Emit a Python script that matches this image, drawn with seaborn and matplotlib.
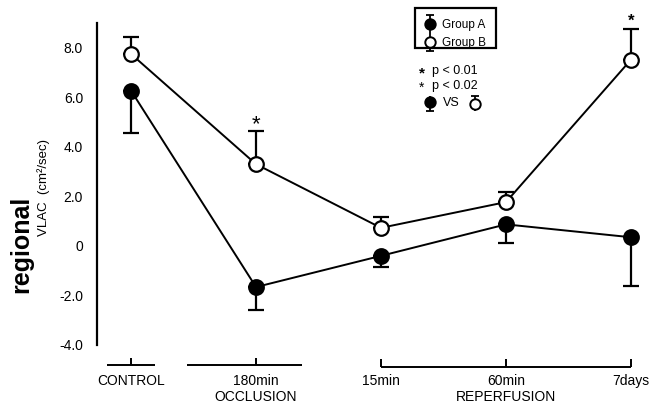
import numpy as np
import pandas as pd
import matplotlib
matplotlib.use("Agg")
import matplotlib.pyplot as plt
import seaborn as sns

# ---- data ----
categories = ["CONTROL", "180min", "15min", "60min", "7days"]
group_a = [6.27, -1.66, -0.40, 0.87, 0.35]
group_a_err_low = [1.70, 0.94, 0.45, 0.77, 1.97]
group_b = [7.75, 3.30, 0.73, 1.77, 7.52]
group_b_err_high = [0.70, 1.35, 0.42, 0.42, 1.22]
yticks = [-4, -2, 0, 2, 4, 6, 8]
ytick_labels = ["-4.0", "-2.0", "0", "2.0", "4.0", "6.0", "8.0"]

sns.set_style("white")
plt.rcParams["font.family"] = ["Liberation Sans", "DejaVu Sans"]
plt.rcParams["text.color"] = "black"
plt.rcParams["ytick.color"] = "black"
plt.rcParams["ytick.labelcolor"] = "black"

W, H = 656, 408
fig = plt.figure(figsize=(W / 100, H / 100), dpi=100)
AX_L, AX_R, AX_T, AX_B = 97, 656, 23, 345
ax = fig.add_axes([AX_L / W, (H - AX_B) / H, (AX_R - AX_L) / W, (AX_B - AX_T) / H])

xpos = np.arange(len(categories))
df = pd.DataFrame({
    "x": np.concatenate([xpos, xpos]),
    "value": group_a + group_b,
    "group": ["Group A"] * 5 + ["Group B"] * 5,
})

# error bars (one-sided)
ax.errorbar(xpos, group_a, yerr=[group_a_err_low, [0] * 5], fmt="none",
            ecolor="black", elinewidth=1.6, capsize=5.5, capthick=1.6, zorder=2)
ax.errorbar(xpos, group_b, yerr=[[0] * 5, group_b_err_high], fmt="none",
            ecolor="black", elinewidth=1.6, capsize=5.5, capthick=1.6, zorder=2)

sns.lineplot(data=df[df.group == "Group A"], x="x", y="value", ax=ax,
             color="black", lw=1.4, marker="o", markersize=10.5,
             markerfacecolor="black", markeredgecolor="black",
             markeredgewidth=1.6, zorder=3, legend=False)
sns.lineplot(data=df[df.group == "Group B"], x="x", y="value", ax=ax,
             color="black", lw=1.4, marker="o", markersize=10.5,
             markerfacecolor="white", markeredgecolor="black",
             markeredgewidth=1.6, zorder=4, legend=False)

ax.set_xlim((AX_L - 131) / 125, (AX_R - 131) / 125)
ax.set_ylim(-4, 9.0)
ax.set_yticks(yticks)
ax.set_yticklabels(ytick_labels, fontsize=10)
ax.set_xticks([])
ax.set_xlabel("")
ax.set_ylabel("")
for s in ["top", "right", "bottom"]:
    ax.spines[s].set_visible(False)
ax.spines["left"].set_linewidth(1.6)
ax.spines["left"].set_color("black")
ax.tick_params(axis="y", direction="out", length=6, width=1.3, color="black", pad=4)


def P(px, py):
    """pixel -> axes fraction"""
    return (px - AX_L) / (AX_R - AX_L), (AX_B - py) / (AX_B - AX_T)


def line_px(xs, ys, lw=1.4):
    pts = [P(x, y) for x, y in zip(xs, ys)]
    ax.plot([p[0] for p in pts], [p[1] for p in pts], color="black", lw=lw,
            transform=ax.transAxes, clip_on=False, solid_capstyle="butt")


def text_px(px, py, s, **kw):
    x, y = P(px, py)
    ax.text(x, y, s, transform=ax.transAxes, clip_on=False, **kw)


# bottom brackets
line_px([107, 155], [365, 365])
line_px([131, 131], [365, 358])
line_px([187, 302], [365, 365])
line_px([256, 256], [365, 358])
line_px([381, 631], [367, 367])
line_px([381, 381], [367, 359])
line_px([506, 506], [367, 359])
line_px([631, 631], [367, 359])

for i, lab in enumerate(categories):
    text_px(131 + 125 * i, 381, lab, ha="center", va="center", fontsize=10)
text_px(256, 397, "OCCLUSION", ha="center", va="center", fontsize=10)
text_px(506, 397, "REPERFUSION", ha="center", va="center", fontsize=10)

# significance marks
text_px(256, 125, "*", ha="center", va="center", fontsize=16)
text_px(631, 21, "*", ha="center", va="center", fontsize=12, fontweight="bold")

# legend box
bx0, by0 = P(415, 48)
bx1, by1 = P(496, 8)
ax.add_patch(plt.Rectangle((bx0, by0), bx1 - bx0, by1 - by0, transform=ax.transAxes,
                           fill=False, edgecolor="black", lw=1.6, clip_on=False))
line_px([430, 430], [15, 51], lw=1.3)
line_px([426, 434], [15, 15], lw=1.3)
line_px([426, 434], [51, 51], lw=1.3)
for (cx, cy, fc) in [(430, 24, "black"), (430, 42, "white")]:
    x, y = P(cx, cy)
    ax.plot([x], [y], marker="o", ms=7.5, mfc=fc, mec="black", mew=1.4,
            transform=ax.transAxes, clip_on=False)
text_px(442, 25, "Group A", ha="left", va="center", fontsize=8.5)
text_px(442, 43, "Group B", ha="left", va="center", fontsize=8.5)

text_px(419, 73, "*", ha="left", va="center", fontsize=11, fontweight="bold")
text_px(432, 71, "p < 0.01", ha="left", va="center", fontsize=9)
text_px(419, 88, "*", ha="left", va="center", fontsize=10)
text_px(432, 86, "p < 0.02", ha="left", va="center", fontsize=9)
# VS row
line_px([430, 430], [96, 111], lw=1.3)
line_px([426, 434], [111, 111], lw=1.3)
line_px([475, 475], [96, 111], lw=1.3)
line_px([471, 479], [96, 96], lw=1.3)
for (cx, cy, fc) in [(430, 102, "black"), (475, 104, "white")]:
    x, y = P(cx, cy)
    ax.plot([x], [y], marker="o", ms=7.5, mfc=fc, mec="black", mew=1.4,
            transform=ax.transAxes, clip_on=False)
text_px(443, 103, "VS", ha="left", va="center", fontsize=9)

# y label
fig.text(21 / W, 1 - 244 / H, "regional", rotation=90, ha="center", va="center",
         fontsize=18, fontweight="bold")
fig.text(44 / W, 1 - 188 / H, "VLAC  (cm²/sec)", rotation=90, ha="center", va="center",
         fontsize=9.5)

fig.savefig("out.png", dpi=100)
